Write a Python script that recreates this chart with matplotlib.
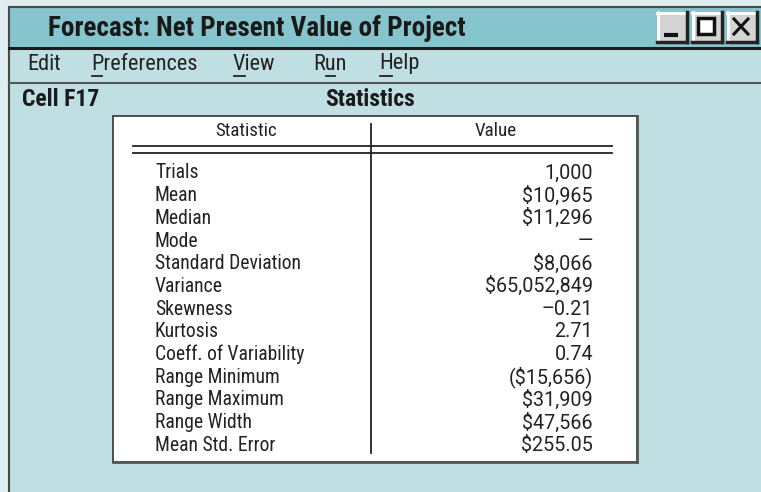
import matplotlib
matplotlib.use("Agg")
import matplotlib.pyplot as plt
from matplotlib.patches import Rectangle
from matplotlib import font_manager

# ---- data ----
window_title = "Forecast: Net Present Value of Project"
menu_items = ["Edit", "Preferences", "View", "Run", "Help"]
menu_underline = [None, 0, 0, 1, 0]
cell_label = "Cell F17"
panel_title = "Statistics"
col_headers = ["Statistic", "Value"]
stat_names = ["Trials", "Mean", "Median", "Mode", "Standard Deviation", "Variance",
              "Skewness", "Kurtosis", "Coeff. of Variability", "Range Minimum",
              "Range Maximum", "Range Width", "Mean Std. Error"]
stat_values = ["1,000", "$10,965", "$11,296", "\u2014", "$8,066", "$65,052,849",
               "\u20130.21", "2.71", "0.74", "($15,656)", "$31,909", "$47,566", "$255.05"]

names = {f.name for f in font_manager.fontManager.ttflist}
cond = None
for cand in ["Liberation Sans Narrow", "Roboto Condensed", "Open Sans Condensed", "Arial Narrow"]:
    if cand in names:
        cond = cand
        break
if cond is None:
    cond = "Roboto"
plt.rcParams['font.family'] = [cond, 'DejaVu Sans']
plt.rcParams['text.parse_math'] = False

W, H = 761, 492
fig = plt.figure(figsize=(W / 100, H / 100), dpi=100)
ax = fig.add_axes([0, 0, 1, 1])
ax.set_xlim(0, W)
ax.set_ylim(H, 0)
ax.axis('off')

outer_bg = "#ddedf0"
title_bg = "#86c5cd"
body_bg = "#c0dfe3"
fig.patch.set_facecolor(outer_bg)

fig.canvas.draw()
renderer = fig.canvas.get_renderer()


def fitted_size(s, target_w, base=14, **kw):
    t = ax.text(0, 0, s, fontsize=base, **kw)
    w = t.get_window_extent(renderer).width
    t.remove()
    return base * target_w / w


# window body
ax.add_patch(Rectangle((9, 7), W, H, facecolor=body_bg, edgecolor="none"))
ax.add_patch(Rectangle((9, 7), W, 40, facecolor=title_bg, edgecolor="none"))
ax.plot([9, 9], [7, H], color="#4a4a4a", lw=1.5)
ax.plot([9, W], [7, 7], color="#4a4a4a", lw=1.5)
ax.plot([9, W], [47.5, 47.5], color="#1a1a1a", lw=2.2)
ax.plot([9, W], [82.5, 82.5], color="#555555", lw=1.5)

fs_title = min(19.5, fitted_size(window_title, 432, fontweight='bold'))
ax.text(48, 28.5, window_title, fontsize=fs_title, fontweight='bold', color="#1a1a1a",
        va='center', ha='left')

# window buttons
for i, x0 in enumerate([657, 692, 727]):
    ax.add_patch(Rectangle((x0, 12), 30, 30, facecolor="#d4d4d4", edgecolor="none"))
    ax.plot([x0, x0 + 30], [12.5, 12.5], color="white", lw=2)
    ax.plot([x0 + 0.5, x0 + 0.5], [12, 42], color="white", lw=2)
    ax.plot([x0, x0 + 30], [41.5, 41.5], color="#222222", lw=2.5)
    ax.plot([x0 + 29.5, x0 + 29.5], [12, 42], color="#222222", lw=2.5)
    cx, cy = x0 + 15, 27
    if i == 0:
        ax.plot([cx - 8, cx + 6], [cy + 8, cy + 8], color="#111111", lw=3, solid_capstyle='butt')
    elif i == 1:
        ax.add_patch(Rectangle((cx - 9, cy - 9), 16, 16, facecolor="white",
                               edgecolor="#111111", lw=2.5))
    else:
        ax.plot([cx - 8, cx + 6], [cy - 8, cy + 7], color="#111111", lw=2.2)
        ax.plot([cx - 8, cx + 6], [cy + 7, cy - 8], color="#111111", lw=2.2)

# menu
fs_menu = min(17, fitted_size("Preferences", 107))
menu_x = [27, 91, 233, 313, 379]
for item, x, u in zip(menu_items, menu_x, menu_underline):
    ax.text(x, 64, item, fontsize=fs_menu, color="#222222", va='center', ha='left')
    if u is not None:
        def width(s):
            if not s:
                return 0.0
            tt = ax.text(x, 64, s, fontsize=fs_menu, va='center', ha='left')
            bb = tt.get_window_extent(renderer)
            tt.remove()
            return bb.width
        w0 = width(item[:u])
        w1 = width(item[:u + 1])
        ax.plot([x + w0 + 1, x + w1 - 1], [75.5, 75.5], color="#222222", lw=1.3)

fs_cell = min(17, fitted_size(cell_label, 82, fontweight='bold'))
ax.text(22, 100, cell_label, fontsize=fs_cell, fontweight='bold', color="#1a1a1a",
        va='center', ha='left')
ax.text(370, 100, panel_title, fontsize=fs_cell, fontweight='bold', color="#1a1a1a",
        va='center', ha='center')

# table box
ax.add_patch(Rectangle((113, 116), 524, 346, facecolor="white", edgecolor="#333333", lw=1.2))
ax.plot([637, 637], [116, 462], color="#555555", lw=2)
ax.plot([113, 637], [462, 462], color="#555555", lw=2)

fs_head = min(15, fitted_size("Statistic", 62))
ax.text(246, 131, col_headers[0], fontsize=fs_head, color="#222222", va='center', ha='center')
ax.text(496, 131, col_headers[1], fontsize=fs_head, color="#222222", va='center', ha='center')
ax.plot([133, 612], [145.5, 145.5], color="#222222", lw=1.3)
ax.plot([133, 612], [152.5, 152.5], color="#222222", lw=1.3)
ax.plot([371, 371], [124, 453], color="#222222", lw=1.3)

fs_row = min(15.5, fitted_size("Standard Deviation", 147))
val_family = ['Roboto', 'DejaVu Sans']
fs_val = min(15, fitted_size("$65,052,849", 108, family=val_family))
y0, dy = 173, 22.67
for i, (n, v) in enumerate(zip(stat_names, stat_values)):
    y = y0 + i * dy
    ax.text(155, y, n, fontsize=fs_row, color="#222222", va='center', ha='left')
    ax.text(593, y, v, fontsize=fs_val, color="#222222", va='center', ha='right',
            family=val_family)

fig.savefig("out.png", dpi=100, facecolor=fig.get_facecolor())
